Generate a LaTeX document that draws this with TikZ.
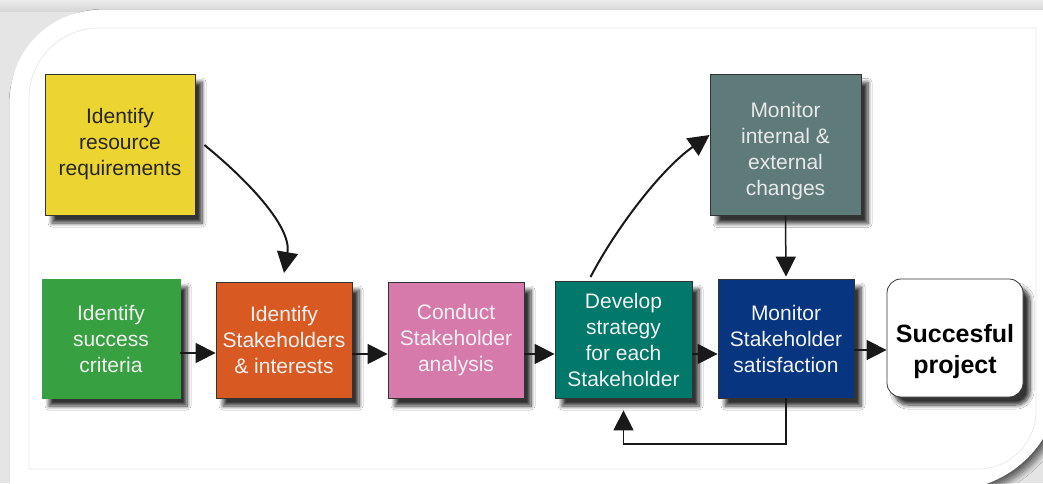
\documentclass[tikz,border=0pt]{standalone}
\usepackage{fontspec}
\setmainfont{Liberation Sans}
\usetikzlibrary{arrows.meta,shadows.blur}
\definecolor{cyellow}{HTML}{ECD531}
\definecolor{cgreen}{HTML}{37A040}
\definecolor{corange}{HTML}{D85A22}
\definecolor{cpink}{HTML}{D67AAB}
\definecolor{cteal}{HTML}{00796A}
\definecolor{cnavy}{HTML}{07357F}
\definecolor{cslate}{HTML}{5E7B7A}
\definecolor{ctext}{HTML}{F2F2F2}
\begin{document}
\begin{tikzpicture}[x=1pt,y=-1pt,
  box/.style={draw=black!80, line width=0.8pt, inner sep=0pt, align=center,
    font=\fontsize{21}{26}\selectfont, text=ctext,
    blur shadow={shadow xshift=7pt,shadow yshift=-8pt,shadow blur radius=4pt,shadow blur steps=8,shadow opacity=80}},
  boxtext/.style={inner sep=0pt, align=center, font=\fontsize{21}{26}\selectfont},
  arr/.style={line width=1.5pt, draw=black!90, -{Triangle[length=20pt,width=20pt]}},
  carr/.style={line width=2pt, draw=black!90, -{Triangle[length=21pt,width=21pt]}},
]
\useasboundingbox (0,0) rectangle (1043,483);
\clip (0,0) rectangle (1043,483);
% background frame
\fill[gray!20] (0,0) rectangle (1043,483);
\shade[top color=gray!15,bottom color=gray!32] (0,0) rectangle (1043,11);
\fill[white, blur shadow={shadow xshift=5pt,shadow yshift=-5pt,shadow blur radius=6pt,shadow blur steps=8,shadow opacity=60}]
  (10,495) -- (10,100) .. controls (10,50.3) and (50.3,10) .. (100,10) -- (1060,10)
  -- (1060,380) .. controls (1060,440.7) and (1010.7,490) .. (950,490) -- (950,495) -- cycle;
\draw[gray!18, line width=0.7pt]
  (29,469) -- (29,98) .. controls (29,59.4) and (60.4,28) .. (99,28) -- (1036,28)
  -- (1036,411) .. controls (1036,443) and (1010,469) .. (978,469) -- cycle;

% boxes
\node[box, fill=cyellow, text=black!85, minimum width=150pt, minimum height=141pt] (res) at (120,144.5) {Identify\\resource\\requirements};
\node[box, fill=cgreen, draw=cgreen, minimum width=138pt, minimum height=119pt] (succ) at (111,338.5) {Identify\\success\\criteria};
\node[box, fill=corange, minimum width=136pt, minimum height=116pt] (stake) at (284,340) {Identify\\Stakeholders\\\& interests};
\node[box, fill=cpink, minimum width=136pt, minimum height=116pt] (anal) at (456,340) {Conduct\\Stakeholder\\analysis};
\node[box, fill=cteal, minimum width=137pt, minimum height=117pt] (strat) at (623.5,339.5) {Develop\\strategy\\for each\\Stakeholder};
\node[box, fill=cnavy, minimum width=136pt, minimum height=119pt] (sat) at (786,338.5) {Monitor\\Stakeholder\\satisfaction};
\node[box, fill=cslate, minimum width=151pt, minimum height=141pt] (chg) at (785.5,145) {};
\node[boxtext, text=gray!18] (chgt) at (785.5,151) {Monitor\\internal \&\\external\\changes};
\node[box, fill=white, rounded corners=14pt, minimum width=136pt, minimum height=118pt] (proj) at (955,338) {};
\node[boxtext, text=black, font=\fontsize{25}{31}\bfseries\selectfont] (projt) at (955,352) {Succesful\\project};

% connectors
\draw[arr] (succ.east |- 0,353) -- (stake.west |- 0,353);
\draw[arr] (stake.east |- 0,354) -- (anal.west |- 0,354);
\draw[arr] (anal.east |- 0,354) -- (strat.west |- 0,354);
\draw[arr] (strat.east |- 0,354) -- (sat.west |- 0,354);
\draw[arr] (sat.east |- 0,350) -- (proj.west |- 0,350);
\draw[arr, shorten >=2pt] (chg.south) -- (sat.north);
\draw[carr] (res.east |- 0,145) ++(9,0) .. controls (245,178) and (292,226) .. (stake.north |- 0,273);
\draw[carr] (strat.north |- 0,277) ++(-33,0) .. controls (615,230) and (660,170) .. (chg.west |- 0,135);
\draw[arr, shorten >=12pt] (sat.south) |- (strat.south |- 0,444) -- (strat.south);
\end{tikzpicture}
\end{document}
